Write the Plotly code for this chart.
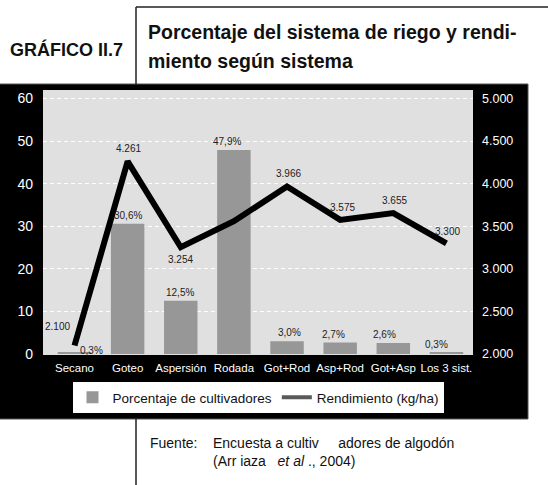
import plotly.graph_objects as go

# ---- data ----
categories = ["Secano", "Goteo", "Aspersión", "Rodada", "Got+Rod", "Asp+Rod", "Got+Asp", "Los 3 sist."]
porcentaje = [0.3, 30.6, 12.5, 47.9, 3.0, 2.7, 2.6, 0.3]
porcentaje_labels = ["0,3%", "30,6%", "12,5%", "47,9%", "3,0%", "2,7%", "2,6%", "0,3%"]
rendimiento = [2100, 4261, 3254, 3560, 3966, 3575, 3655, 3300]
rendimiento_labels = ["2.100", "4.261", "3.254", "", "3.966", "3.575", "3.655", "3.300"]
left_ticks = [0, 10, 20, 30, 40, 50, 60]
right_ticks = [2000, 2500, 3000, 3500, 4000, 4500, 5000]
right_ticktext = ["2.000", "2.500", "3.000", "3.500", "4.000", "4.500", "5.000"]

# ---- style ----
W, H = 548, 485
ML, MR, MT, MB = 43, 75, 90, 131
PW, PH = W - ML - MR, H - MT - MB
BOT = H - MB

def px(x):
    return (x - ML) / PW

def py(y):
    return (BOT - y) / PH

NARROW = "Liberation Sans Narrow, Arial Narrow, Liberation Sans, Arial, sans-serif"
SANS = "Liberation Sans, Arial, Helvetica, sans-serif"
BAR_COLOR = "#979797"

bar_label_shift = [(17, -6), (0, 0), (-1, 0), (-7, 0), (2, 0), (-7, 0), (-9, 0), (-10, 0)]
line_label_shift = [(-17, 19), (1, 13), (0, -12), (0, 0), (1, 13), (2, 12), (1, 13), (1, 12)]

fig = go.Figure()
fig.add_trace(go.Bar(
    x=categories, y=porcentaje, name="Porcentaje de cultivadores",
    marker=dict(color=BAR_COLOR, line=dict(width=0)), yaxis="y",
))
fig.add_trace(go.Scatter(
    x=categories, y=rendimiento, mode="lines", yaxis="y2",
    line=dict(color="black", width=6), showlegend=False, name="Rendimiento (kg/ha)",
))
fig.add_trace(go.Scatter(
    x=[None], y=[None], mode="lines", yaxis="y2",
    line=dict(color="#5a5a5a", width=4), name="Rendimiento (kg/ha)",
))

ann = []
for c, v, t, (dx, dy) in zip(categories, porcentaje, porcentaje_labels, bar_label_shift):
    ann.append(dict(x=c, y=v, xref="x", yref="y", text=t, showarrow=False,
                    yanchor="bottom", xshift=dx, yshift=1 + dy,
                    font=dict(family=NARROW, size=10, color="#222")))
for c, v, t, (dx, dy) in zip(categories, rendimiento, rendimiento_labels, line_label_shift):
    if not t:
        continue
    ann.append(dict(x=c, y=v, xref="x", yref="y2", text=t, showarrow=False,
                    yanchor="middle", xshift=dx, yshift=dy,
                    font=dict(family=NARROW, size=10, color="#222")))

ann += [
    dict(x=px(8), y=py(49), xref="paper", yref="paper", text="<b>GRÁFICO II.7</b>",
         showarrow=False, xanchor="left", yanchor="middle",
         font=dict(family=SANS, size=18, color="#111")),
    dict(x=px(146), y=py(32), xref="paper", yref="paper",
         text="<b>Porcentaje del sistema de riego y rendi-</b>",
         showarrow=False, xanchor="left", yanchor="middle",
         font=dict(family=SANS, size=19.5, color="#111")),
    dict(x=px(146), y=py(61), xref="paper", yref="paper",
         text="<b>miento según sistema</b>",
         showarrow=False, xanchor="left", yanchor="middle",
         font=dict(family=SANS, size=19.5, color="#111")),
    dict(x=px(148), y=py(443), xref="paper", yref="paper", text="Fuente:",
         showarrow=False, xanchor="left", yanchor="middle",
         font=dict(family=SANS, size=14, color="#111")),
    dict(x=px(211), y=py(443), xref="paper", yref="paper",
         text="Encuesta a cultiv\u00a0\u00a0\u00a0\u00a0\u00a0adores de algodón",
         showarrow=False, xanchor="left", yanchor="middle",
         font=dict(family=SANS, size=14, color="#111")),
    dict(x=px(211), y=py(461), xref="paper", yref="paper",
         text="(Arr iaza\u00a0\u00a0 <i>et al</i> ., 2004)",
         showarrow=False, xanchor="left", yanchor="middle",
         font=dict(family=SANS, size=14, color="#111")),
]

def black(x0, x1, y0, y1):
    return dict(type="rect", xref="paper", yref="paper", x0=px(x0), x1=px(x1),
                y0=py(y1), y1=py(y0), fillcolor="black", line=dict(width=0), layer="below")

shapes = [
    black(-1, ML, 84, 419),
    black(ML + PW, 528, 84, 419),
    black(ML - 1, ML + PW + 1, 84, MT),
    black(ML - 1, ML + PW + 1, BOT, 419),
    dict(type="rect", xref="paper", yref="paper", x0=px(-1), x1=px(528), y0=py(419), y1=py(84),
         fillcolor="rgba(0,0,0,0)", line=dict(color="#555", width=1), layer="below"),
    dict(type="line", xref="paper", yref="paper", x0=px(136), x1=px(136), y0=py(7), y1=py(84),
         line=dict(color="#222", width=1.5)),
    dict(type="line", xref="paper", yref="paper", x0=px(136), x1=px(549), y0=py(7), y1=py(7),
         line=dict(color="#222", width=1.5)),
    dict(type="line", xref="paper", yref="paper", x0=px(136), x1=px(136), y0=py(419), y1=py(486),
         line=dict(color="#222", width=1.5)),
]

fig.update_layout(
    width=W, height=H,
    margin=dict(l=ML, r=MR, t=MT, b=MB, pad=0),
    paper_bgcolor="white", plot_bgcolor="#e0e0e0",
    bargap=0.37,
    showlegend=True,
    legend=dict(orientation="h", x=px(258), y=py(397.5), xanchor="center", yanchor="middle",
                bgcolor="white", font=dict(family=SANS, size=13.5, color="#111"),
                itemwidth=30, traceorder="normal", borderwidth=0),
    xaxis=dict(showgrid=False, showline=False, zeroline=False, ticks="", tickangle=0,
               tickfont=dict(family=NARROW, size=11.5, color="white"), ticklabelstandoff=5),
    yaxis=dict(range=[0, 62], tickvals=left_ticks, showgrid=True,
               gridcolor="white", griddash="4px,3px", gridwidth=1,
               zeroline=True, zerolinecolor="#e0e0e0", zerolinewidth=1,
               showline=False, ticks="", ticklabelstandoff=9,
               tickfont=dict(family=NARROW, size=14, color="white")),
    yaxis2=dict(overlaying="y", side="right",
                range=[2000, 2000 + 62 * 50], tickvals=right_ticks, ticktext=right_ticktext,
                showgrid=False, zeroline=False, showline=False, ticks="", ticklabelstandoff=8,
                tickfont=dict(family=NARROW, size=12.5, color="white")),
    annotations=ann,
    shapes=shapes,
)

fig.write_html("out.html", config={"displayModeBar": False},
               post_script="document.body.style.margin='0';")
